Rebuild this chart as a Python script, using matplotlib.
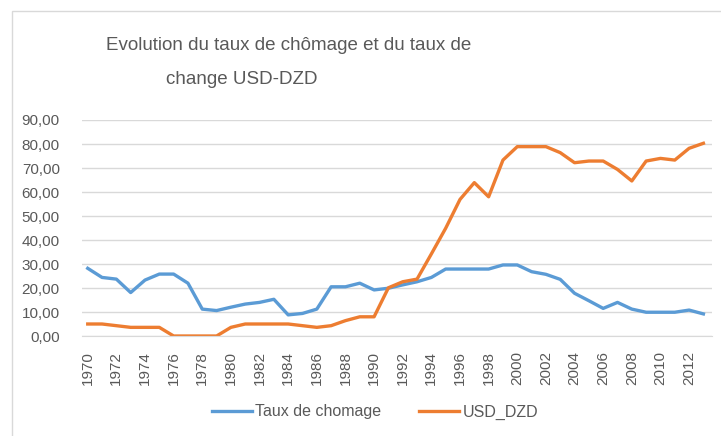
import matplotlib
matplotlib.use('Agg')
import matplotlib.pyplot as plt
from matplotlib.patches import Rectangle
from matplotlib.ticker import FuncFormatter

years = list(range(1970, 2014))
chomage = [28.2, 24.4, 23.7, 18.1, 23.3, 25.8, 25.8, 22.0, 11.2, 10.6,
           12.0, 13.3, 14.0, 15.3, 8.8, 9.4, 11.2, 20.5, 20.5, 22.0,
           19.2, 19.9, 21.3, 22.6, 24.4, 27.9, 27.9, 27.9, 27.9, 29.6,
           29.6, 26.8, 25.7, 23.6, 17.8, 14.7, 11.5, 14.0, 11.2, 9.9,
           9.9, 9.9, 10.8, 9.2]
usd_dzd = [5.0, 5.0, 4.3, 3.6, 3.6, 3.6, 0.0, 0.0, 0.0, 0.0,
           3.6, 5.0, 5.0, 5.0, 5.0, 4.3, 3.6, 4.3, 6.4, 8.0,
           8.0, 20.1, 22.6, 23.7, 34.2, 44.9, 56.9, 63.9, 58.0, 73.3,
           78.9, 78.9, 78.9, 76.4, 72.2, 72.9, 72.9, 69.4, 64.6, 72.9,
           74.0, 73.3, 78.2, 80.3]
yticks = [0, 10, 20, 30, 40, 50, 60, 70, 80, 90]

plt.rcParams['font.family'] = ['Liberation Sans', 'DejaVu Sans']

fig = plt.figure(figsize=(7.21, 4.36), dpi=100)
# light chart border like the Excel chart area
fig.patches.append(Rectangle((12 / 721, -0.1), 1.0, 1 - 11 / 436 + 0.1,
                             transform=fig.transFigure, fill=False,
                             edgecolor='#d9d9d9', linewidth=1))

ax = fig.add_axes([82 / 721, 100 / 436, 630 / 721, 216 / 436])
ax.plot(years, chomage, color='#5b9bd5', linewidth=2.4, label='Taux de chomage',
        solid_joinstyle='round')
ax.plot(years, usd_dzd, color='#ed7d31', linewidth=2.4, label='USD_DZD',
        solid_joinstyle='round')

ax.set_xlim(1969.6, 2013.6)
ax.set_ylim(0, 90)
ax.set_yticks(yticks)
ax.yaxis.set_major_formatter(FuncFormatter(lambda v, p: f'{v:.2f}'.replace('.', ',')))
ax.set_xticks(years[::2])
ax.set_xticklabels([str(y) for y in years[::2]], rotation=90)
ax.tick_params(axis='both', length=0, labelsize=11, colors='#595959')
ax.tick_params(axis='y', pad=16)
ax.tick_params(axis='x', pad=11)
ax.grid(True, axis='y', color='#d9d9d9', linewidth=1)
ax.set_axisbelow(True)
for s in ['top', 'right', 'left']:
    ax.spines[s].set_visible(False)
ax.spines['bottom'].set_color('#d9d9d9')

fig.text(289 / 721, 1 - 45 / 436, 'Evolution du taux de chômage et du taux de',
         ha='center', va='center', fontsize=13.5, color='#595959')
fig.text(166 / 721, 1 - 80 / 436, 'change USD-DZD',
         ha='left', va='center', fontsize=13.5, color='#595959')

ax.legend(loc='center', bbox_to_anchor=(375 / 721, 1 - 412 / 436),
          bbox_transform=fig.transFigure, ncol=2, frameon=False,
          fontsize=11.5, labelcolor='#595959', handlelength=2.5,
          handletextpad=0.2, columnspacing=2.4)

fig.savefig('out.png', dpi=100)
